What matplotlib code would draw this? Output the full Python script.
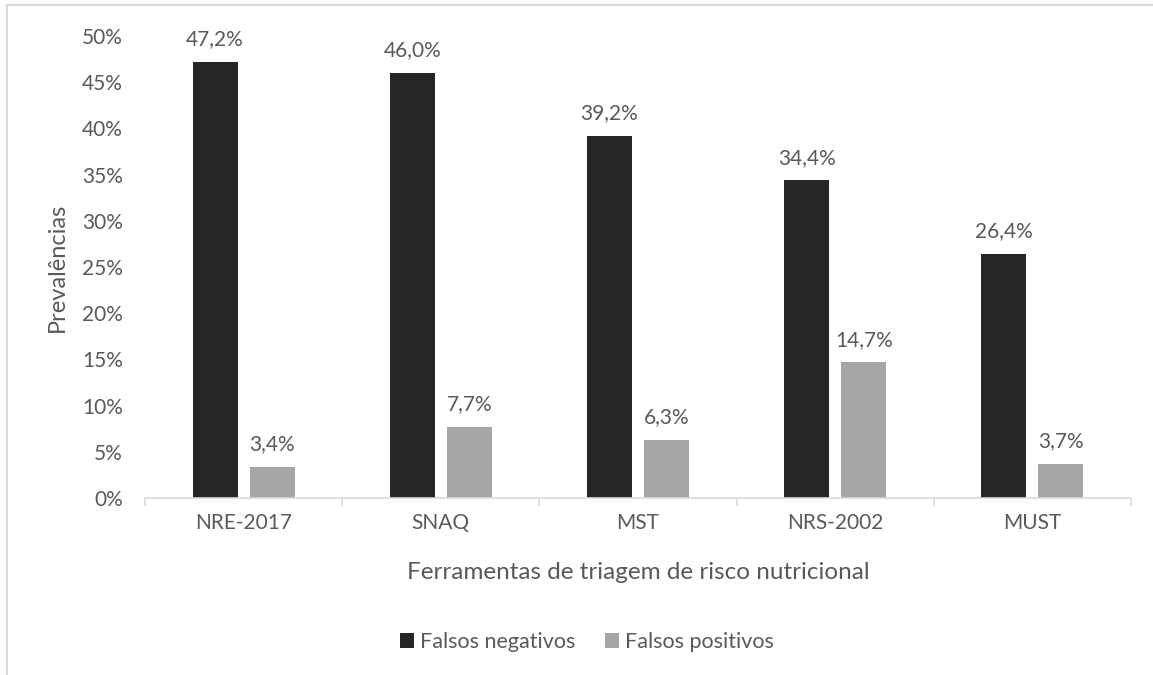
import numpy as np
import matplotlib
matplotlib.use("Agg")
import matplotlib.pyplot as plt
from matplotlib.patches import Rectangle
from matplotlib.ticker import FuncFormatter

plt.rcParams['font.family'] = ['Lato', 'DejaVu Sans']

# Dados: ferramentas e prevalências (%)
ferramentas = ['NRE-2017', 'SNAQ', 'MST', 'NRS-2002', 'MUST']
falsos_negativos = [47.2, 46.0, 39.2, 34.4, 26.4]
falsos_positivos = [3.4, 7.7, 6.3, 14.7, 3.7]
series = ['Falsos negativos', 'Falsos positivos']

cor_texto = '#595959'
cor_escura = '#262626'
cor_clara = '#a6a6a6'

fig = plt.figure(figsize=(11.53, 6.75), dpi=100)
ax = fig.add_axes([145 / 1153, 1 - 498 / 675, 986 / 1153, (498 - 36) / 675])

# moldura do gráfico (só borda esquerda e superior visíveis)
fig.patches.append(Rectangle((7 / 1153, -0.1), 1.2, 1 - 5 / 675 + 0.1,
                             transform=fig.transFigure, fill=False,
                             edgecolor='#d9d9d9', linewidth=1.5))

x = np.arange(len(ferramentas))
w = 0.228
gap = 0.061
off = (w + gap) / 2

b1 = ax.bar(x - off, falsos_negativos, w, color=cor_escura, label=series[0])
b2 = ax.bar(x + off, falsos_positivos, w, color=cor_clara, label=series[1])

for barras, vals in [(b1, falsos_negativos), (b2, falsos_positivos)]:
    for b, v in zip(barras, vals):
        ax.annotate(f'{v:.1f}%'.replace('.', ','),
                    (b.get_x() + b.get_width() / 2, v),
                    xytext=(0, 9), textcoords='offset points',
                    ha='center', va='bottom', fontsize=15, color=cor_texto)

ax.set_xlim(-0.5, len(ferramentas) - 0.5)
ax.set_ylim(0, 50)
ax.set_yticks(np.arange(0, 51, 5))
ax.yaxis.set_major_formatter(FuncFormatter(lambda v, p: f'{int(v)}%'))
ax.set_xticks(x)
ax.set_xticklabels(ferramentas)
ax.set_xticks(np.arange(-0.5, len(ferramentas), 1), minor=True)

for s in ['top', 'right', 'left']:
    ax.spines[s].set_visible(False)
ax.spines['bottom'].set_color('#d9d9d9')
ax.spines['bottom'].set_linewidth(1.2)

ax.tick_params(axis='y', length=0, pad=16, labelsize=15, labelcolor=cor_texto)
ax.tick_params(axis='x', which='major', length=0, pad=11, labelsize=15,
               labelcolor=cor_texto)
ax.tick_params(axis='x', which='minor', length=6, color='#d9d9d9', width=1.2)

ax.set_xlabel('Ferramentas de triagem de risco nutricional', fontsize=17.5,
              color=cor_texto, labelpad=21)
ax.set_ylabel('Prevalências', fontsize=17, color=cor_texto, labelpad=10)

fig.legend(handles=[b1, b2], labels=series, loc='center',
           bbox_to_anchor=(587 / 1153, 1 - 642 / 675), ncol=2, frameon=False,
           fontsize=15.5, labelcolor=cor_texto, handlelength=0.65,
           handleheight=0.65, handletextpad=0.25, columnspacing=1.4)

fig.savefig('out.png', dpi=100, facecolor='white')
